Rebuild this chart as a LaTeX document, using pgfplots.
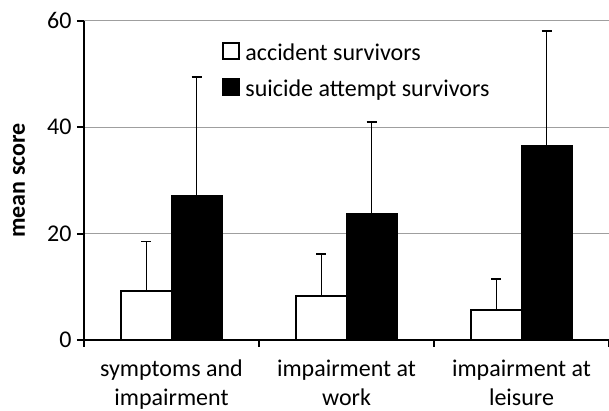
\documentclass[border=0pt]{standalone}
\usepackage{pgfplots}
\pgfplotsset{compat=1.18}
\usepackage{fontspec}
\setmainfont{Carlito}
\begin{document}
\begin{tikzpicture}
\begin{axis}[
  at={(0,0)}, anchor=south west,
  scale only axis, width=525pt, height=319.3pt,
  xmin=-0.5, xmax=2.5, ymin=0, ymax=60,
  ybar=0pt, bar width=0.286,
  axis lines*=left,
  axis line style={line width=2pt},
  ytick={0,20,40,60},
  ymajorgrids, major grid style={gray!75, line width=0.8pt},
  xtick={-0.5,0.5,1.5,2.5}, xticklabels={},
  extra x ticks={0,1,2},
  extra x tick labels={symptoms and\\impairment, impairment at\\work, impairment at\\leisure},
  extra x tick style={major tick length=0pt, grid=none, xticklabel style={align=center, yshift=-16pt}},
  tick align=outside,
  major tick length=7pt,
  tick style={line width=2pt, black},
  tick label style={font=\fontsize{24}{29}\selectfont},
  yticklabel style={xshift=-2pt},
  /pgf/number format/assume math mode=true,
  ylabel={mean score},
  ylabel style={font=\fontsize{24}{29}\selectfont\bfseries, at={(axis description cs:-0.1238,0.5)}, anchor=center},
  legend style={draw=none, fill=none, at={(axis cs:0.29,56.05)}, anchor=north west,
    font=\fontsize{24}{29}\selectfont, inner sep=0pt, row sep=12pt, column sep=0pt,
    nodes={inner sep=0pt, text height=17pt, text depth=5pt}},
  legend cell align=left,
  legend image code/.code={\draw[#1, line width=2pt] (0pt,-4pt) rectangle (16pt,12pt);},
  error bars/y dir=plus, error bars/y explicit,
  error bars/error bar style={line width=1.5pt, black},
  error bars/error mark options={line width=1.8pt, mark size=5pt, black, rotate=90},
]
\addplot[bar shift=-0.143, fill=white, draw=black, line width=2pt]
  coordinates {(0,9.2) +- (0,9.3) (1,8.2) +- (0,8.0) (2,5.7) +- (0,5.8)};
\addlegendentry{\hspace{5pt}accident survivors}
\addplot[bar shift=0.143, fill=black, draw=black, line width=2pt]
  coordinates {(0,27.1) +- (0,22.3) (1,23.6) +- (0,17.4) (2,36.5) +- (0,21.6)};
\addlegendentry{\hspace{5pt}suicide attempt survivors}
\end{axis}
\pgfresetboundingbox
\path[use as bounding box] (-84pt,-71pt) rectangle (525pt,340pt);
\end{tikzpicture}
\end{document}
